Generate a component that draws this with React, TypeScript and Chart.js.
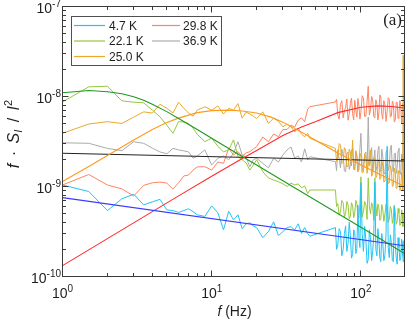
import { useEffect, useRef } from "react";
import { Chart, registerables } from "chart.js";

Chart.register(...registerables);

// All spectral values below are in units of 1e-9 (f·S_I/I^2)
const UNIT = 1e-9;
const X_MIN = 1;
const X_MAX = 196;
const Y_MIN = 1e-10;
const Y_MAX = 1e-7;

const X_TICKS = [1, 10, 100];
const X_TICK_EXP = ["0", "1", "2"];
const Y_TICKS = [1e-10, 1e-9, 1e-8, 1e-7];
const Y_TICK_EXP = ["-10", "-9", "-8", "-7"];

const SERIES_LABELS = ["4.7 K", "22.1 K", "25.0 K", "29.8 K", "36.9 K"];
const DATA_COLORS = ["#22c4f4", "#96c83c", "#e8aa2c", "#ff8462", "#ababab"];
const FIT_COLORS = ["#3a3aff", "#1f9a1f", "#ff9a1a", "#ff2b2b", "#222222"];

// low / mid frequency bins (Hz)
const FREQ_LO = [
  1, 1.5, 2, 2.5, 3, 3.5, 4, 4.5, 5, 5.5, 6, 6.5, 7, 7.5, 8,
  9, 10, 11, 12, 13, 14, 15, 16, 17, 18, 19, 20, 22, 24, 26, 28, 30, 32, 34, 36, 38, 40, 42, 44, 45.5,
];
// high frequency bins (Hz)
const FREQ_HI = [
  67.5, 68.7, 70, 71.5, 73, 74.5, 76, 77.5, 79, 80.5, 82, 83.5, 85, 86.5, 88, 89.5, 91, 92.5, 94, 95.5,
  97, 98.5, 100, 102, 104, 106, 108, 110, 112, 114, 116, 118, 120, 122, 124, 126, 128, 130, 132, 134,
  136, 138, 140, 142.5, 145, 147.5, 150, 152.5, 155, 157.5, 160, 162.5, 165, 167.5, 170, 172.5, 175, 177.5,
  180, 182.5, 185, 187.5, 190, 191, 192, 194, 196,
];

const S_4_7K_LO = [
  1.04, 0.88, 0.54, 0.73, 0.82, 0.625, 0.675, 0.72, 0.55, 0.54, 0.515, 0.54, 0.565, 0.525, 0.485,
  0.465, 0.61, 0.51, 0.33, 0.53, 0.425, 0.485, 0.34, 0.385, 0.395, 0.365, 0.35, 0.27, 0.315, 0.405,
  0.285, 0.315, 0.35, 0.357, 0.33, 0.385, 0.3, 0.35, 0.3, 0.28,
];
const S_4_7K_HI = [
  0.35, 0.2, 0.225, 0.34, 0.315, 0.17, 0.198, 0.3, 0.365, 0.19,
  0.232, 0.4, 0.285, 0.16, 0.175, 0.33, 0.305, 0.18, 0.205, 0.62,
  0.27, 0.21, 1.1, 0.3, 0.19, 0.36, 0.255, 0.14, 0.155, 0.33,
  0.27, 0.15, 0.19, 0.29, 1.12, 0.2, 0.17, 0.34, 0.255, 0.16,
  0.146, 0.3, 0.243, 0.15, 0.175, 0.31, 2.8, 0.21, 0.162, 0.29,
  0.238, 0.15, 0.146, 0.6, 0.225, 0.16, 0.137, 0.27, 0.21, 0.15,
  0.162, 0.26, 0.232, 0.17, 0.146, 0.25, 0.198,
];

const S_22_1K_LO = [
  8.7, 12.8, 13.0, 8.95, 8.65, 8.5, 7.05, 5.95, 4.8, 3.9, 5.25, 5.2, 5.02, 4.45, 3.8,
  3.15, 3.45, 2.8, 2.42, 2.55, 3.3, 2.15, 1.98, 1.83, 1.52, 1.73, 1.98, 1.46, 1.245, 1.18,
  1.13, 1.07, 1.0, 1.09, 1.04, 1.07, 0.965, 1.015, 0.835, 0.915,
];
const S_22_1K_HI = [
  0.915, 0.6, 0.645, 0.48, 0.525, 0.7, 0.66, 0.46, 0.497, 0.68,
  0.625, 0.44, 0.47, 0.66, 0.61, 0.45, 0.51, 0.7, 0.645, 0.47,
  0.45, 0.64, 1.28, 0.46, 0.525, 0.68, 0.625, 0.43, 1.245, 0.6,
  0.497, 0.66, 0.595, 0.42, 1.245, 0.62, 0.47, 0.64, 0.58, 0.42,
  0.44, 0.63, 0.565, 0.41, 0.497, 0.64, 0.61, 0.4, 0.43, 0.6,
  0.55, 0.39, 0.45, 0.62, 0.525, 0.38, 0.405, 0.57, 0.51, 0.37,
  0.385, 0.55, 0.485, 0.36, 0.365, 0.5, 0.44,
];

const S_25_0K_LO = [
  3.9, 4.95, 5.25, 5.02, 5.9, 6.75, 6.55, 8.2, 7.4, 6.55, 8.65, 7.4, 6.55, 6.05, 7.05,
  7.7, 7.05, 7.85, 6.4, 7.4, 7.05, 8.35, 5.75, 6.7, 6.4, 6.05, 5.7, 6.75, 5.02, 5.75,
  5.3, 4.6, 4.95, 4.6, 4.05, 4.45, 3.82, 3.57, 3.9, 3.43,
];
const S_25_0K_HI = [
  2.65, 1.9, 2.07, 3.0, 2.88, 1.8, 1.87, 2.7, 2.55, 1.65,
  1.68, 2.6, 2.42, 1.7, 3.28, 1.55, 1.61, 2.5, 2.24, 1.5,
  1.52, 2.35, 2.18, 1.42, 1.45, 2.3, 2.07, 1.4, 1.73, 2.2,
  2.55, 1.3, 1.39, 2.1, 1.98, 1.25, 1.31, 2.0, 1.87, 1.2,
  1.245, 1.9, 1.73, 1.12, 1.15, 1.8, 1.65, 1.08, 1.1, 1.7,
  1.52, 1.0, 1.04, 1.6, 1.45, 0.95, 0.965, 1.5, 1.39, 0.9,
  0.915, 1.45, 1.28, 0.92, 28.7, 1.3, 1.04,
];

const S_29_8K_LO = [
  1.04, 1.36, 1.04, 0.94, 0.785, 1.03, 1.1, 1.12, 1.09, 0.935, 1.1, 1.31, 1.34, 1.52, 1.65,
  1.66, 1.52, 1.87, 1.81, 2.65, 2.24, 2.44, 2.18, 2.36, 2.44, 2.61, 2.77, 3.55, 3.14, 3.83,
  3.57, 4.3, 4.3, 4.8, 4.57, 5.45, 5.8, 5.25, 7.25, 7.7,
];
const S_29_8K_HI = [
  8.7, 9.3, 6.2, 5.6, 8.2, 9.0, 5.8, 6.9, 7.6, 9.4,
  5.45, 6.3, 8.4, 9.6, 6.45, 5.5, 9.1, 7.0, 5.9, 9.5,
  7.85, 5.6, 6.7, 10.2, 9.6, 6.0, 6.05, 8.8, 13.0, 6.2,
  7.1, 10.0, 9.1, 6.0, 5.8, 9.2, 8.2, 5.5, 6.55, 10.4,
  9.8, 6.4, 5.6, 9.0, 8.0, 5.3, 6.85, 9.7, 9.3, 5.9,
  6.05, 8.9, 8.2, 5.2, 5.45, 8.6, 8.65, 5.7, 6.45, 9.0,
  7.6, 5.0, 5.3, 8.2, 8.4, 6.0, 4.8,
];

const S_36_9K_LO = [
  3.06, 3.02, 2.65, 2.5, 3.14, 3.02, 2.67, 2.42, 2.31, 2.65, 2.55, 2.49, 2.42, 2.06, 2.18,
  2.55, 1.73, 2.06, 2.18, 1.98, 2.34, 3.14, 2.24, 2.13, 1.66, 1.98, 2.06, 1.81, 1.61, 2.06,
  1.87, 2.24, 2.55, 2.75, 2.07, 2.18, 1.87, 2.62, 1.98, 2.14,
];
const S_36_9K_HI = [
  1.89, 1.5, 2.55, 2.0, 1.61, 2.6, 2.24, 1.5, 1.45, 2.3,
  2.42, 1.55, 1.73, 2.5, 2.67, 1.6, 1.52, 2.4, 2.13, 1.45,
  1.83, 2.6, 3.9, 1.5, 1.61, 2.3, 2.42, 1.55, 5.9, 1.7,
  1.98, 2.7, 1.45, 1.9, 2.55, 1.5, 1.68, 2.5, 2.8, 1.45,
  1.52, 2.6, 2.24, 1.4, 1.39, 2.4, 2.55, 1.5, 1.68, 2.7,
  2.88, 1.55, 1.45, 2.3, 2.36, 1.4, 1.61, 2.5, 2.67, 1.45,
  1.36, 2.3, 2.24, 1.5, 4.0, 1.6, 1.87,
];

// Fitted curves (units of 1e-9)
const FIT_4_7K_F = [1, 196];
const FIT_4_7K = [0.753, 0.22];

const FIT_22_1K_F = [1, 1.5, 2, 2.5, 3, 3.5, 4, 5, 6, 8, 10, 15, 20, 30, 50, 70, 100, 150, 196];
const FIT_22_1K = [11.02, 11.65, 11.3, 10.74, 9.95, 9.1, 8.22, 6.79, 5.69, 4.29, 3.44, 2.3, 1.73, 1.159, 0.7, 0.501, 0.352, 0.236, 0.18];

const FIT_25_0K_F = [1, 1.5, 2, 3, 4, 5, 6, 8, 10, 13, 16, 20, 25, 30, 40, 50, 70, 100, 150, 196];
const FIT_25_0K = [1.139, 1.67, 2.21, 3.28, 4.29, 5.13, 5.75, 6.62, 6.96, 7.05, 6.91, 6.57, 5.9, 5.19, 4.02, 3.24, 2.36, 1.735, 1.245, 1.0];

const FIT_29_8K_F = [1, 2, 4, 6, 10, 15, 20, 30, 40, 50, 70, 100, 130, 160, 196];
const FIT_29_8K = [0.132, 0.2635, 0.526, 0.787, 1.3, 1.92, 2.51, 3.68, 4.57, 5.26, 6.62, 7.61, 7.87, 7.75, 7.45];

const FIT_36_9K_F = [1, 196];
const FIT_36_9K = [2.34, 1.92];

const DATA_LO = [S_4_7K_LO, S_22_1K_LO, S_25_0K_LO, S_29_8K_LO, S_36_9K_LO];
const DATA_HI = [S_4_7K_HI, S_22_1K_HI, S_25_0K_HI, S_29_8K_HI, S_36_9K_HI];
const FIT_SERIES_F = [FIT_4_7K_F, FIT_22_1K_F, FIT_25_0K_F, FIT_29_8K_F, FIT_36_9K_F];
const FIT_SERIES = [FIT_4_7K, FIT_22_1K, FIT_25_0K, FIT_29_8K, FIT_36_9K];

const FONT = '"Liberation Sans", Arial, Helvetica, sans-serif';
const SERIF = '"Liberation Serif", "Times New Roman", serif';
const AXIS_COLOR = "#3a3a3a";
const TEXT_COLOR = "#1e1e1e";

function drawPow(ctx: CanvasRenderingContext2D, exp: string, x: number, yBase: number, align: "center" | "right") {
  ctx.font = `14px ${FONT}`;
  const wb = ctx.measureText("10").width;
  ctx.font = `10px ${FONT}`;
  const we = ctx.measureText(exp).width;
  const total = wb + we;
  const x0 = align === "center" ? x - total / 2 : x - total;
  ctx.textAlign = "left";
  ctx.textBaseline = "alphabetic";
  ctx.font = `14px ${FONT}`;
  ctx.fillText("10", x0, yBase);
  ctx.font = `10px ${FONT}`;
  ctx.fillText(exp, x0 + wb, yBase - 6);
}

type Seg = { t: string; f: string; dy: number; gap?: number };
function drawSegs(ctx: CanvasRenderingContext2D, segs: Seg[], cx: number, base: number) {
  let total = 0;
  for (const s of segs) {
    ctx.font = s.f;
    total += ctx.measureText(s.t).width + (s.gap || 0);
  }
  let x = cx - total / 2;
  ctx.textAlign = "left";
  ctx.textBaseline = "alphabetic";
  for (const s of segs) {
    ctx.font = s.f;
    ctx.fillText(s.t, x, base + s.dy);
    x += ctx.measureText(s.t).width + (s.gap || 0);
  }
}

const framePlugin = {
  id: "frame",
  beforeDraw(chart: any) {
    const c = chart.ctx as CanvasRenderingContext2D;
    c.save();
    c.fillStyle = "#ffffff";
    c.fillRect(0, 0, chart.width, chart.height);
    c.restore();
  },
  afterDraw(chart: any) {
    const ctx = chart.ctx as CanvasRenderingContext2D;
    const a = chart.chartArea;
    const xs = chart.scales.x;
    const ys = chart.scales.y;
    ctx.save();
    ctx.strokeStyle = AXIS_COLOR;
    ctx.lineWidth = 1;
    ctx.strokeRect(a.left, a.top, a.right - a.left, a.bottom - a.top);

    ctx.beginPath();
    for (const dec of X_TICKS) {
      for (let m = 1; m <= 9; m++) {
        const v = m * dec;
        if (v < X_MIN || v > X_MAX) continue;
        const px = Math.floor(xs.getPixelForValue(v)) + 0.5;
        const len = m === 1 ? 6 : 3.5;
        ctx.moveTo(px, a.bottom);
        ctx.lineTo(px, a.bottom - len);
        ctx.moveTo(px, a.top);
        ctx.lineTo(px, a.top + len);
      }
    }
    for (const dec of Y_TICKS) {
      for (let m = 1; m <= 9; m++) {
        const v = m * dec;
        if (v < Y_MIN * 0.999 || v > Y_MAX * 1.001) continue;
        const py = Math.floor(ys.getPixelForValue(v)) + 0.5;
        const len = m === 1 ? 6 : 3.5;
        ctx.moveTo(a.left, py);
        ctx.lineTo(a.left + len, py);
        ctx.moveTo(a.right, py);
        ctx.lineTo(a.right - len, py);
      }
    }
    ctx.stroke();

    ctx.fillStyle = TEXT_COLOR;
    X_TICKS.forEach((v, i) => {
      drawPow(ctx, X_TICK_EXP[i], xs.getPixelForValue(v), 298, "center");
    });
    Y_TICKS.forEach((v, i) => {
      drawPow(ctx, Y_TICK_EXP[i], 61, ys.getPixelForValue(v) + 6.8, "right");
    });

    const cx = (a.left + a.right) / 2;
    drawSegs(
      ctx,
      [
        { t: "f", f: `italic 14px ${FONT}`, dy: 0 },
        { t: " (Hz)", f: `14px ${FONT}`, dy: 0 },
      ],
      cx + 1,
      316
    );

    ctx.save();
    ctx.translate(18.5, 134);
    ctx.rotate(-Math.PI / 2);
    drawSegs(
      ctx,
      [
        { t: "f", f: `italic 16px ${FONT}`, dy: 0, gap: 3 },
        { t: " \u00b7 ", f: `16px ${FONT}`, dy: 0, gap: 3 },
        { t: "S", f: `italic 16px ${FONT}`, dy: 0 },
        { t: "I", f: `italic 11px ${FONT}`, dy: 3, gap: 3 },
        { t: " / ", f: `16px ${FONT}`, dy: 0, gap: 3 },
        { t: "I", f: `italic 16px ${FONT}`, dy: 0 },
        { t: "2", f: `11px ${FONT}`, dy: -7 },
      ],
      0,
      0
    );
    ctx.restore();

    ctx.font = `17px ${SERIF}`;
    ctx.textAlign = "right";
    ctx.textBaseline = "alphabetic";
    ctx.fillText("(a)", 402, 24.5);

    ctx.fillStyle = "#ffffff";
    ctx.fillRect(71.5, 16.5, 150, 49);
    ctx.strokeStyle = "#505050";
    ctx.lineWidth = 1;
    ctx.strokeRect(71.5, 16.5, 150, 49);
    const rowY = [25.5, 41, 56.5];
    const colLine = [
      [74, 105, 109],
      [152, 180, 183],
    ];
    ctx.font = `12px ${FONT}`;
    ctx.textAlign = "left";
    SERIES_LABELS.forEach((lab, i) => {
      const col = Math.floor(i / 3);
      const row = i % 3;
      const [x1, x2, tx] = colLine[col];
      const y = rowY[row];
      ctx.strokeStyle = DATA_COLORS[i];
      ctx.lineWidth = 1.2;
      ctx.beginPath();
      ctx.moveTo(x1, y);
      ctx.lineTo(x2, y);
      ctx.stroke();
      ctx.fillStyle = TEXT_COLOR;
      ctx.fillText(lab, tx, y + 4.3);
    });
    ctx.restore();
  },
};

export default function App() {
  const ref = useRef<HTMLCanvasElement | null>(null);
  useEffect(() => {
    if (!ref.current) return;
    const datasets: any[] = [];
    FIT_SERIES.forEach((vals, i) => {
      datasets.push({
        label: SERIES_LABELS[i] + " fit",
        data: FIT_SERIES_F[i].map((f, j) => ({ x: f, y: vals[j] * UNIT })),
        borderColor: FIT_COLORS[i],
        borderWidth: 1.1,
        pointRadius: 0,
        tension: 0,
        fill: false,
        order: 0,
      });
    });
    SERIES_LABELS.forEach((lab, i) => {
      const pts = FREQ_LO.map((f, j) => ({ x: f, y: DATA_LO[i][j] * UNIT })).concat(
        FREQ_HI.map((f, j) => ({ x: f, y: DATA_HI[i][j] * UNIT }))
      );
      datasets.push({
        label: lab,
        data: pts,
        borderColor: DATA_COLORS[i],
        borderWidth: 1,
        pointRadius: 0,
        tension: 0,
        fill: false,
        order: 1,
      });
    });
    const chart = new Chart(ref.current, {
      type: "line",
      data: { datasets },
      options: {
        responsive: false,
        animation: false,
        layout: { padding: { left: 62.5, top: 6.5, right: 2.5, bottom: 45.5 } },
        scales: {
          x: { type: "logarithmic", min: X_MIN, max: X_MAX, display: false },
          y: { type: "logarithmic", min: Y_MIN, max: Y_MAX, display: false },
        },
        plugins: { legend: { display: false }, tooltip: { enabled: false } },
        elements: { point: { radius: 0 }, line: { tension: 0 } },
      },
      plugins: [framePlugin],
    } as any);
    return () => chart.destroy();
  }, []);
  return (
    <div style={{ position: "absolute", left: 0, top: 0, width: 407, height: 322 }}>
      <canvas ref={ref} width={407} height={322} style={{ display: "block", width: 407, height: 322 }} />
    </div>
  );
}
